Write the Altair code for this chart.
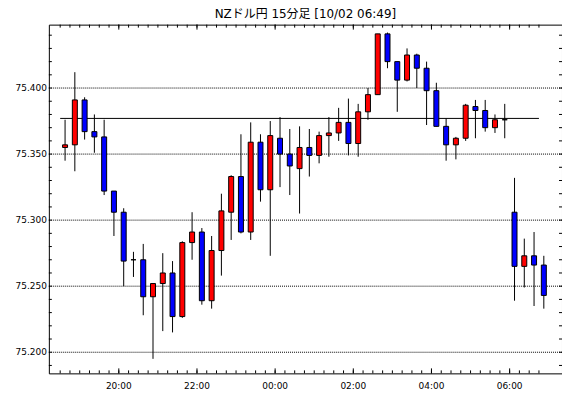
import altair as alt
import pandas as pd

# ---- data ----
title_text = "NZドル円 15分足 [10/02 06:49]"
first_start = "2018-10-01 18:30"
n_candles = 50
opens = [75.355, 75.357, 75.391, 75.367, 75.363, 75.322, 75.306, 75.270, 75.270, 75.242,
         75.252, 75.260, 75.227, 75.283, 75.291, 75.239, 75.277, 75.306, 75.333, 75.291,
         75.359, 75.323, 75.362, 75.350, 75.339, 75.355, 75.349, 75.364, 75.366, 75.374,
         75.358, 75.382, 75.395, 75.441, 75.420, 75.406, 75.425, 75.415, 75.398, 75.371,
         75.357, 75.362, 75.386, 75.383, 75.370, 75.376, 75.306, 75.265, 75.273, 75.266]
highs = [75.376, 75.412, 75.393, 75.380, 75.376, 75.322, 75.309, 75.276, 75.282, 75.252,
         75.275, 75.269, 75.284, 75.306, 75.294, 75.288, 75.320, 75.334, 75.365, 75.374,
         75.365, 75.375, 75.378, 75.369, 75.371, 75.369, 75.367, 75.378, 75.385, 75.392,
         75.388, 75.400, 75.441, 75.442, 75.420, 75.430, 75.426, 75.420, 75.404, 75.377,
         75.363, 75.388, 75.391, 75.391, 75.380, 75.388, 75.332, 75.286, 75.291, 75.273]
lows = [75.345, 75.337, 75.361, 75.351, 75.319, 75.288, 75.250, 75.257, 75.228, 75.195,
        75.216, 75.215, 75.226, 75.270, 75.236, 75.233, 75.258, 75.285, 75.290, 75.285,
        75.314, 75.273, 75.325, 75.319, 75.305, 75.333, 75.343, 75.348, 75.360, 75.349,
        75.348, 75.376, 75.395, 75.415, 75.382, 75.405, 75.400, 75.372, 75.371, 75.345,
        75.346, 75.360, 75.362, 75.367, 75.366, 75.362, 75.239, 75.249, 75.235, 75.233]
closes = [75.357, 75.391, 75.367, 75.363, 75.322, 75.306, 75.269, 75.270, 75.242, 75.252,
          75.260, 75.227, 75.283, 75.291, 75.239, 75.277, 75.307, 75.333, 75.291, 75.359,
          75.323, 75.364, 75.350, 75.341, 75.355, 75.349, 75.364, 75.366, 75.374, 75.358,
          75.382, 75.395, 75.441, 75.420, 75.406, 75.425, 75.415, 75.398, 75.371, 75.357,
          75.362, 75.387, 75.383, 75.370, 75.376, 75.376, 75.265, 75.273, 75.266, 75.243]
ref_level = [75.377]
y_label_values = [75.200, 75.250, 75.300, 75.350, 75.400]
y_minor_values = [round(75.19 + 0.01 * i, 2) for i in range(26)]
x_label_times = ["2018-10-01 20:00", "2018-10-01 22:00", "2018-10-02 00:00",
                 "2018-10-02 02:00", "2018-10-02 04:00", "2018-10-02 06:00"]
x_domain_ends = ["2018-10-01 18:20:15", "2018-10-02 07:12:45"]
y_domain = [75.184, 75.448]

W, H = 515, 350
FONT = "DejaVu Sans"

starts = pd.date_range(first_start, periods=n_candles, freq="15min")
df = pd.DataFrame({
    "start": starts,
    "center": starts + pd.Timedelta(minutes=7.5),
    "open": opens, "high": highs, "low": lows, "close": closes,
})
major = df[(df["start"].dt.minute == 0) & (df["start"].dt.hour % 2 == 0)][["start"]]
level_df = pd.DataFrame({"level": ref_level, "x1": [starts[0]], "x2": [starts[-1]]})
yt_df = pd.DataFrame({"v": y_minor_values})
ylab_df = pd.DataFrame({"v": y_label_values})
xlab_df = pd.DataFrame({"t": pd.to_datetime(x_label_times)})

def dt(s):
    t = pd.Timestamp(s)
    return alt.DateTime(year=t.year, month=t.month, date=t.day,
                        hours=t.hour, minutes=t.minute, seconds=t.second)

xscale = alt.Scale(domain=[dt(s) for s in x_domain_ends], nice=False)
yscale = alt.Scale(domain=y_domain, zero=False, nice=False)

def X(field):
    return alt.X(field, scale=xscale, axis=None)

def Y(field):
    return alt.Y(field, scale=yscale, axis=None)

# gridlines (dotted) at labelled values
grid = alt.Chart(ylab_df).mark_rule(color="black", strokeWidth=1, strokeDash=[1, 1]).encode(
    y=Y("v:Q"), x=alt.value(0), x2=alt.value(W))

base = alt.Chart(df)
wicks = base.mark_rule(color="black", strokeWidth=1).encode(
    x=X("center:T"), y=Y("low:Q"), y2="high:Q")

bodies = base.mark_bar(size=5, stroke="black", strokeWidth=1).encode(
    x=X("center:T"), y=Y("open:Q"), y2="close:Q",
    color=alt.condition("datum.close > datum.open", alt.value("#FF0000"), alt.value("#0000FF")),
)

level = alt.Chart(level_df).mark_rule(color="black", strokeWidth=1).encode(
    x=X("x1:T"), x2="x2:T", y=Y("level:Q"))

tick_src = alt.Chart(df[["start"]])
top_minor = tick_src.mark_rule(color="black").encode(x=X("start:T"), y=alt.value(0), y2=alt.value(3))
bot_minor = tick_src.mark_rule(color="black").encode(x=X("start:T"), y=alt.value(H), y2=alt.value(H - 3))
maj_src = alt.Chart(major)
top_major = maj_src.mark_rule(color="black").encode(x=X("start:T"), y=alt.value(0), y2=alt.value(5))
bot_major = maj_src.mark_rule(color="black").encode(x=X("start:T"), y=alt.value(H), y2=alt.value(H - 5))

yt_src = alt.Chart(yt_df)
left_ticks = yt_src.mark_rule(color="black").encode(y=Y("v:Q"), x=alt.value(0), x2=alt.value(3))
right_ticks = yt_src.mark_rule(color="black").encode(y=Y("v:Q"), x=alt.value(W), x2=alt.value(W - 3))

ylabels = alt.Chart(ylab_df).mark_text(align="right", baseline="middle", font=FONT,
                                        fontSize=9, color="black").encode(
    y=Y("v:Q"), x=alt.value(-2), text=alt.Text("v:Q", format=".3f"))

xlabels = alt.Chart(xlab_df).mark_text(align="center", baseline="middle", font=FONT,
                                        fontSize=9, color="black").encode(
    x=X("t:T"), y=alt.value(H + 12.5), text=alt.Text("t:T", format="%H:%M"))

title = alt.Chart(pd.DataFrame({"label": [title_text]})).mark_text(
    align="center", baseline="alphabetic", font=f"{FONT}, Noto Sans CJK JP",
    fontSize=12, color="black").encode(
    x=alt.value(W / 2), y=alt.value(-6.5), text="label:N")

chart = alt.layer(
    grid, wicks, level, bodies, top_minor, bot_minor, top_major, bot_major,
    left_ticks, right_ticks, ylabels, xlabels, title
).properties(
    width=W, height=H, background="white",
    padding={"left": 41, "top": 16, "right": 0, "bottom": 16},
    autosize=alt.AutoSizeParams(type="none"),
).configure_view(stroke="black", strokeWidth=1)

chart.save("out.html", embed_options={"renderer": "svg", "actions": False})
